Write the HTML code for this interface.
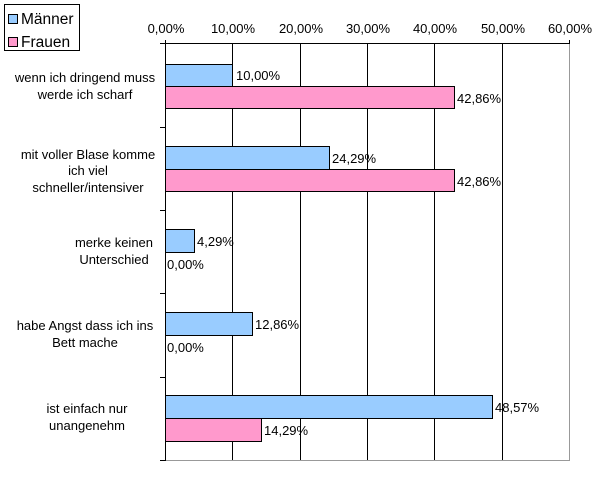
<!DOCTYPE html>
<html><head><meta charset="utf-8"><style>
html,body{margin:0;padding:0;background:#fff;}
svg text{font-family:"Liberation Sans",Arial,sans-serif;font-size:13px;fill:#000;}
</style></head><body>
<svg width="615" height="473" viewBox="0 0 615 473" xmlns="http://www.w3.org/2000/svg">
<rect x="0" y="0" width="615" height="473" fill="#fff"/>
<line x1="569.5" y1="43" x2="569.5" y2="460.5" stroke="#999" stroke-width="1"/>
<line x1="165" y1="460.5" x2="570" y2="460.5" stroke="#999" stroke-width="1"/>
<g stroke="#000" stroke-width="1">
<line x1="232.5" y1="43" x2="232.5" y2="460"/>
<line x1="300.5" y1="43" x2="300.5" y2="460"/>
<line x1="367.5" y1="43" x2="367.5" y2="460"/>
<line x1="434.5" y1="43" x2="434.5" y2="460"/>
<line x1="502.5" y1="43" x2="502.5" y2="460"/>
<line x1="165.5" y1="40" x2="165.5" y2="461"/>
<line x1="165" y1="43.5" x2="570" y2="43.5"/>
<line x1="569.5" y1="40" x2="569.5" y2="43"/>
<line x1="160" y1="43.5" x2="165" y2="43.5"/>
<line x1="160" y1="127.5" x2="165" y2="127.5"/>
<line x1="160" y1="210.5" x2="165" y2="210.5"/>
<line x1="160" y1="293.5" x2="165" y2="293.5"/>
<line x1="160" y1="377.5" x2="165" y2="377.5"/>
<line x1="160" y1="460.5" x2="165" y2="460.5"/>
</g>
<g text-anchor="middle">
<text x="166" y="33">0,00%</text>
<text x="233" y="33">10,00%</text>
<text x="301" y="33">20,00%</text>
<text x="368" y="33">30,00%</text>
<text x="435" y="33">40,00%</text>
<text x="503" y="33">50,00%</text>
<text x="570" y="33">60,00%</text>
</g>
<g stroke="#000" stroke-width="1">
<rect x="165.5" y="64.5" width="67" height="22" fill="#99ccff"/>
<rect x="165.5" y="86.5" width="289" height="22" fill="#ff99cc"/>
<rect x="165.5" y="146.5" width="164" height="23" fill="#99ccff"/>
<rect x="165.5" y="169.5" width="289" height="22" fill="#ff99cc"/>
<rect x="165.5" y="229.5" width="29" height="23" fill="#99ccff"/>
<rect x="165.5" y="312.5" width="87" height="23" fill="#99ccff"/>
<rect x="165.5" y="395.5" width="327" height="23" fill="#99ccff"/>
<rect x="165.5" y="418.5" width="96" height="23" fill="#ff99cc"/>
</g>
<text x="236" y="80">10,00%</text>
<text x="457" y="103">42,86%</text>
<text x="332" y="163">24,29%</text>
<text x="457" y="186">42,86%</text>
<text x="197" y="246">4,29%</text>
<text x="167" y="269">0,00%</text>
<text x="255" y="329">12,86%</text>
<text x="167" y="352">0,00%</text>
<text x="495" y="412">48,57%</text>
<text x="264" y="435">14,29%</text>
<g text-anchor="middle">
<text x="85" y="82">wenn ich dringend muss</text>
<text x="85" y="99">werde ich scharf</text>
<text x="88" y="159">mit voller Blase komme</text>
<text x="88" y="175">ich viel</text>
<text x="88" y="192">schneller/intensiver</text>
<text x="114" y="247">merke keinen</text>
<text x="114" y="264">Unterschied</text>
<text x="85" y="330">habe Angst dass ich ins</text>
<text x="85" y="347">Bett mache</text>
<text x="87" y="413">ist einfach nur</text>
<text x="87" y="430">unangenehm</text>
</g>
<rect x="4.5" y="4.5" width="75" height="46" fill="#fff" stroke="#000"/>
<rect x="8.5" y="14.5" width="9" height="9" fill="#99ccff" stroke="#000"/>
<rect x="8.5" y="37.5" width="9" height="9" fill="#ff99cc" stroke="#000"/>
<text x="21" y="24" style="font-size:15.5px">Männer</text>
<text x="21" y="47" style="font-size:15.5px">Frauen</text>
</svg>
</body></html>
